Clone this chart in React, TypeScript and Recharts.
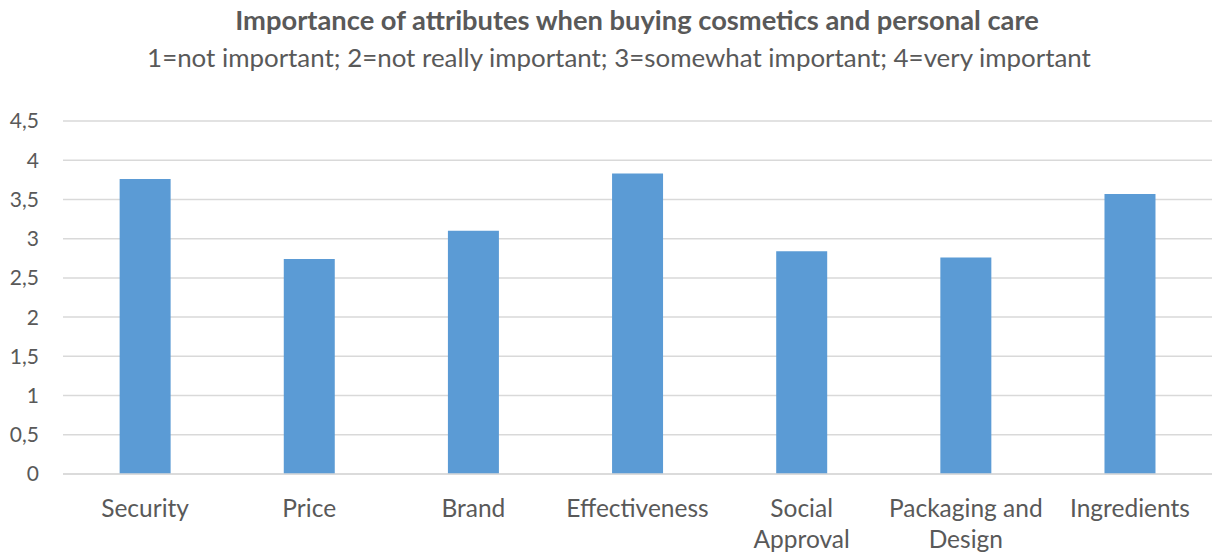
import React from "react";
import { BarChart, Bar, XAxis, YAxis, CartesianGrid } from "recharts";

const categories = ["Security", "Price", "Brand", "Effectiveness", "Social Approval", "Packaging and Design", "Ingredients"];
const categoryLines = [["Security"], ["Price"], ["Brand"], ["Effectiveness"], ["Social", "Approval"], ["Packaging and", "Design"], ["Ingredients"]];
const importance = [3.76, 2.74, 3.1, 3.83, 2.84, 2.76, 3.57];
const yTicks = [0, 0.5, 1, 1.5, 2, 2.5, 3, 3.5, 4, 4.5];
const titleText = "Importance of attributes when buying cosmetics and personal care";
const subtitleText = "1=not important; 2=not really important; 3=somewhat important; 4=very important";

const data = categories.map((c, i) => ({ name: c, value: importance[i] }));

const FONT = "Lato, 'Open Sans', sans-serif";

const XTick = (props: any) => {
  const { x, y, payload } = props;
  const idx = categories.indexOf(payload.value);
  const lines = idx >= 0 ? categoryLines[idx] : [payload.value];
  return (
    <g transform={`translate(${x},${y})`}>
      {lines.map((l: string, i: number) => (
        <text key={i} x={0} y={0} dy={35 + i * 31} textAnchor="middle" fill="#595959" fontSize={24.5} fontFamily={FONT}>
          {l}
        </text>
      ))}
    </g>
  );
};

export default function App() {
  return (
    <div style={{ position: "absolute", left: 0, top: 0, width: 1214, height: 555, background: "#fff", fontFamily: FONT }}>
      <div style={{ position: "absolute", top: 3, left: 0, width: 1274, textAlign: "center", fontSize: 27.3, fontWeight: 700, color: "#595959", whiteSpace: "nowrap" }}>
        {titleText}
      </div>
      <div style={{ position: "absolute", top: 41, left: 0, width: 1238, textAlign: "center", fontSize: 25.9, color: "#595959", whiteSpace: "nowrap" }}>
        {subtitleText}
      </div>
      <BarChart width={1214} height={555} data={data} margin={{ top: 121, right: 2, left: 0, bottom: 0 }} barCategoryGap="34.5%">
        <CartesianGrid vertical={false} stroke="#D9D9D9" strokeWidth={1.5} />
        <XAxis dataKey="name" interval={0} tick={<XTick />} tickLine={false} axisLine={{ stroke: "#D9D9D9", strokeWidth: 1.5 }} height={81} />
        <YAxis
          domain={[0, 4.5]}
          ticks={yTicks}
          width={63}
          tickLine={false}
          axisLine={false}
          tickSize={0}
          tickMargin={24}
          interval={0}
          tickFormatter={(v: number) => String(v).replace(".", ",")}
          tick={{ fill: "#595959", fontSize: 21, fontFamily: FONT }}
        />
        <Bar dataKey="value" fill="#5B9BD5" isAnimationActive={false} />
      </BarChart>
    </div>
  );
}
